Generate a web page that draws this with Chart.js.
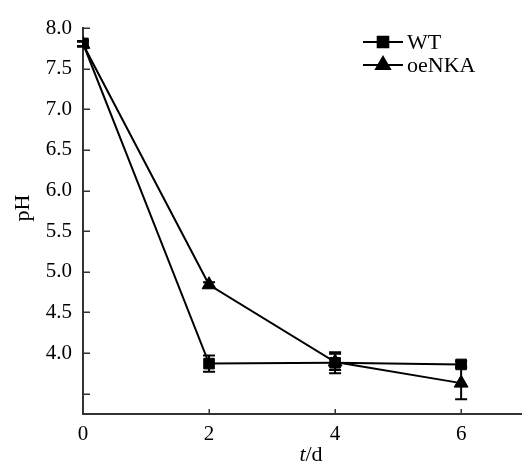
<!DOCTYPE html>
<html>
<head>
<meta charset="utf-8">
<script src="https://cdn.jsdelivr.net/npm/chart.js@4.4.0/dist/chart.umd.min.js"></script>
<style>
  html, body { margin: 0; padding: 0; background: #fff; }
  #wrap { width: 522px; height: 466px; }
</style>
</head>
<body>
<div id="wrap"><canvas id="chart"></canvas></div>
<script>
// --- Data ---
const days = [0, 2, 4, 6];
const wtPH = [7.81, 3.87, 3.88, 3.86];
const wtErr = [0.03, 0.10, 0.13, 0.04];
const oePH = [7.80, 4.84, 3.89, 3.63];
const oeErr = [0.03, 0.03, 0.10, 0.20];
const seriesNames = ['WT', 'oeNKA'];
const xTicks = [0, 2, 4, 6];
const yTicks = [3.5, 4.0, 4.5, 5.0, 5.5, 6.0, 6.5, 7.0, 7.5, 8.0];

const serif = "'Liberation Serif', 'Times New Roman', serif";
const axisColor = '#333';

function points(vals) {
    return days.map((d, i) => ({ x: d, y: vals[i] }));
}

// error bars drawn under the markers
const errorBars = {
    id: 'errorBars',
    beforeDatasetsDraw(chart) {
        const { ctx, scales: { x, y } } = chart;
        ctx.save();
        ctx.strokeStyle = '#000';
        ctx.lineWidth = 2;
        chart.data.datasets.forEach(ds => {
            ds.data.forEach((p, i) => {
                const e = ds.errors[i];
                const px = x.getPixelForValue(p.x);
                const top = y.getPixelForValue(p.y + e);
                const bot = y.getPixelForValue(p.y - e);
                ctx.beginPath();
                ctx.moveTo(px, top); ctx.lineTo(px, bot);
                ctx.moveTo(px - 6, top); ctx.lineTo(px + 6, top);
                ctx.moveTo(px - 6, bot); ctx.lineTo(px + 6, bot);
                ctx.stroke();
            });
        });
        ctx.restore();
    }
};

// inward tick marks, legend (line through marker) and axis titles
const extras = {
    id: 'extras',
    beforeDatasetsDraw(chart) {
        const { ctx, chartArea: area, scales: { x, y } } = chart;
        ctx.save();
        ctx.strokeStyle = axisColor;
        ctx.lineWidth = 1.5;
        ctx.beginPath();
        yTicks.forEach(v => {
            const py = Math.round(y.getPixelForValue(v)) + 0.25;
            ctx.moveTo(area.left, py); ctx.lineTo(area.left + 7, py);
        });
        xTicks.forEach(v => {
            const px = Math.round(x.getPixelForValue(v)) + 0.25;
            ctx.moveTo(px, area.bottom); ctx.lineTo(px, area.bottom - 5);
        });
        ctx.stroke();
        ctx.restore();
    },
    afterDraw(chart) {
        const ctx = chart.ctx;
        const area = chart.chartArea;
        ctx.save();
        ctx.fillStyle = '#000';
        ctx.strokeStyle = '#000';
        ctx.lineWidth = 2;

        const lx = 363;
        chart.data.datasets.forEach((ds, i) => {
            const ly = 42 + i * 23;
            ctx.beginPath();
            ctx.moveTo(lx, ly); ctx.lineTo(lx + 40, ly);
            ctx.stroke();
            Chart.helpers.drawPoint(ctx, {
                pointStyle: ds.pointStyle,
                radius: ds.pointRadius,
                borderWidth: 1
            }, lx + 20, ly);
            ctx.fill();
            ctx.font = '22px ' + serif;
            ctx.textBaseline = 'middle';
            ctx.textAlign = 'left';
            ctx.fillText(ds.label, lx + 44, ly + 1);
        });

        // y title
        ctx.save();
        ctx.translate(23, (area.top + area.bottom) / 2 - 13);
        ctx.rotate(-Math.PI / 2);
        ctx.textAlign = 'center';
        ctx.textBaseline = 'middle';
        ctx.font = '22px ' + serif;
        ctx.fillText('pH', 0, 0);
        ctx.restore();

        // x title: italic t + /d
        const cx = 311;
        const ty = 455;
        ctx.textBaseline = 'middle';
        ctx.textAlign = 'left';
        ctx.font = 'italic 22px ' + serif;
        const wT = ctx.measureText('t').width;
        ctx.font = '22px ' + serif;
        const wD = ctx.measureText('/d').width;
        const start = cx - (wT + wD) / 2;
        ctx.font = 'italic 22px ' + serif;
        ctx.fillText('t', start, ty);
        ctx.font = '22px ' + serif;
        ctx.fillText('/d', start + wT, ty);
        ctx.restore();
    }
};

new Chart(document.getElementById('chart'), {
    type: 'line',
    data: {
        datasets: [
            {
                label: seriesNames[0],
                data: points(wtPH),
                errors: wtErr,
                borderColor: '#000',
                backgroundColor: '#000',
                borderWidth: 2,
                pointStyle: 'rect',
                pointRadius: 7.5,
                pointBorderWidth: 1,
                tension: 0
            },
            {
                label: seriesNames[1],
                data: points(oePH),
                errors: oeErr,
                borderColor: '#000',
                backgroundColor: '#000',
                borderWidth: 2,
                pointStyle: 'triangle',
                pointRadius: 8,
                pointBorderWidth: 1,
                tension: 0
            }
        ]
    },
    options: {
        responsive: true,
        maintainAspectRatio: false,
        animation: false,
        layout: { autoPadding: false, padding: { top: 28, right: 1, left: 0, bottom: 0 } },
        plugins: {
            legend: { display: false },
            tooltip: { enabled: false }
        },
        scales: {
            x: {
                type: 'linear',
                min: 0,
                max: 6.95,
                afterBuildTicks: s => { s.ticks = xTicks.map(v => ({ value: v })); },
                afterFit: s => { s.height = 52; s.paddingRight = 0; s.paddingLeft = 0; },
                grid: { display: false, drawTicks: false },
                border: { display: true, color: axisColor, width: 2 },
                ticks: {
                    color: '#000',
                    padding: 8,
                    maxRotation: 0,
                    font: { family: serif, size: 21 },
                    callback: v => String(v)
                }
            },
            y: {
                type: 'linear',
                min: 3.25,
                max: 8.0,
                afterBuildTicks: s => { s.ticks = yTicks.map(v => ({ value: v })); },
                afterFit: s => { s.width = 83; s.paddingTop = 0; s.paddingBottom = 0; },
                grid: { display: false, drawTicks: false },
                border: { display: true, color: axisColor, width: 2 },
                ticks: {
                    color: '#000',
                    padding: 11,
                    font: { family: serif, size: 21 },
                    callback: v => (v < 4 ? '' : v.toFixed(1))
                }
            }
        }
    },
    plugins: [errorBars, extras]
});
</script>
</body>
</html>
